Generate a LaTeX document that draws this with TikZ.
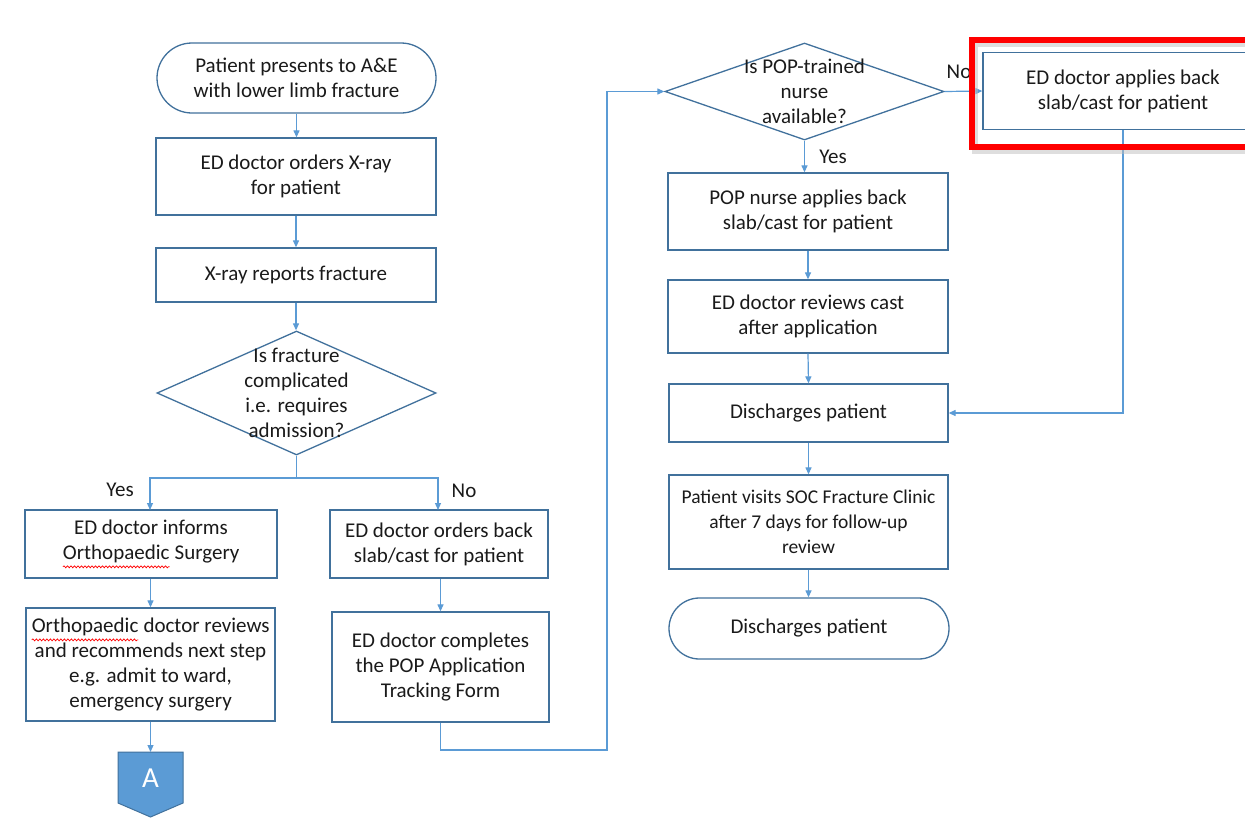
\documentclass[tikz,border=0pt]{standalone}
\usepackage{fontspec}
\setmainfont{Carlito}
\usetikzlibrary{arrows.meta,decorations.pathmorphing,shapes.geometric}
\definecolor{boxblue}{HTML}{41719C}
\definecolor{arrblue}{HTML}{5B9BD5}
\definecolor{txtc}{HTML}{1A1A1A}
\newcommand\spellerr[1]{\tikz[baseline=(w.base),x=1pt,y=1pt]{\node[rectangle,draw=none,fill=none,inner sep=0pt,outer sep=0pt,minimum width=0pt,minimum height=0pt,rounded corners=0pt](w){#1};\draw[red,line width=0.7pt,rounded corners=0pt,decorate,decoration={snake,amplitude=1pt,segment length=3.5pt}] ([yshift=-4pt]w.south west) -- ([yshift=-4pt]w.south east);}}
\begin{document}
\begin{tikzpicture}[x=1pt,y=-1pt,
  font=\fontsize{21}{25}\selectfont,
  box/.style={draw=boxblue, line width=1.3pt, align=center, text=txtc, inner sep=0pt},
  term/.style={box, rounded corners=#1},
  dia/.style={draw=boxblue, line width=1.3pt, diamond, inner sep=0pt},
  txtnode/.style={align=center, text=txtc, inner sep=0pt},
  lbl/.style={text=txtc, inner sep=0pt},
  conn/.style={draw=arrblue, line width=1.2pt},
  arr/.style={conn, -{Triangle[length=7pt,width=6pt]}}]
\clip (0,0) rectangle (1245,822);
\fill[white] (0,0) rectangle (1245,822);

% left column
\node[term=35pt, minimum width=279pt, minimum height=70pt] (start) at (296.5,78) {Patient presents to A\&E\\with lower limb fracture};
\node[box, minimum width=280pt, minimum height=77pt] (xray) at (296,176.5) {ED doctor orders X-ray\\for patient};
\node[box, minimum width=280pt, minimum height=54pt] (rep) at (296,275) {X-ray reports fracture};
\node[dia, minimum width=279pt, minimum height=124pt] (d1) at (296.5,393) {};
\node[txtnode] (d1t) at (d1.center) {Is fracture\\complicated\\i.e. requires\\admission?};

\node[box, minimum width=252pt, minimum height=68pt] (yesbox) at (151,544) {ED doctor informs\\\spellerr{Orthopaedic} Surgery};
\node[box, minimum width=249pt, minimum height=113pt] (ortho) at (150.5,664.5) {\spellerr{Orthopaedic} doctor reviews\\and recommends next step\\e.g. admit to ward,\\emergency surgery};
\node[box, minimum width=218pt, minimum height=68pt] (nobox) at (439,544) {ED doctor orders back\\slab/cast for patient};
\node[box, minimum width=217pt, minimum height=110pt] (form) at (440.5,667) {ED doctor completes\\the POP Application\\Tracking Form};

% off-page connector A
\filldraw[fill=arrblue, draw=boxblue, line width=1pt] (118,752) -- (183,752) -- (183,803) -- (150.5,817) -- (118,803) -- cycle;
\coordinate (Atop) at (150.5,752);
\node[text=white, inner sep=0pt, font=\fontsize{29}{32}\selectfont] (A) at (150.5,778) {A};

% right column
\node[dia, minimum width=279pt, minimum height=97pt] (d2) at (804.5,91.5) {};
\node[txtnode] (d2t) at (d2.center) {Is POP-trained\\nurse\\available?};
\node[box, minimum width=280pt, minimum height=77pt] (edapp) at (1123,91) {ED doctor applies back\\slab/cast for patient};
\node[box, minimum width=280pt, minimum height=77pt] (nurse) at (808,211.5) {POP nurse applies back\\slab/cast for patient};
\node[box, minimum width=280pt, minimum height=73pt] (review) at (808,316.5) {ED doctor reviews cast\\after application};
\node[box, minimum width=279pt, minimum height=58pt] (dis) at (808.5,413) {Discharges patient};
\node[box, minimum width=279pt, minimum height=94pt, font=\fontsize{19.5}{25}\selectfont] (visit) at (808.5,522) {Patient visits SOC Fracture Clinic\\after 7 days for follow-up\\review};
\node[term=30.5pt, minimum width=280pt, minimum height=61pt] (endt) at (809,628.5) {Discharges patient};

% labels
\node[lbl] (yl1) at (120,490) {Yes};
\node[lbl] (nl1) at (464,491) {No};
\node[lbl] (yl2) at (833,157) {Yes};
\node[lbl] (nl2) at (959,72) {No};

% connectors
\draw[arr] (start.south) -- (start.south |- xray.north);
\draw[arr] (xray.south) -- (xray.south |- rep.north);
\draw[arr] (rep.south) -- (rep.south |- d1.north);
\coordinate (j1) at (296.5,478);
\draw[conn] (d1.south) -- (j1);
\draw[arr] (j1) -| (150,510);
\draw[arr] (j1) -| (438,510);
\draw[arr] (yesbox.south -| ortho.north) -- (ortho.north);
\draw[arr] (ortho.south) -- (Atop);
\draw[arr] (nobox.south -| form.north) -- (form.north);
\coordinate (c1) at (607,750);
\draw[arr] (form.south) |- (c1) |- (d2.west);
\draw[arr] (d2.east) -- (edapp.west);
\draw[arr] (d2.south) -- (d2.south |- nurse.north);
\draw[arr] (nurse.south) -- (review.north);
\draw[arr] (review.south) -- (dis.north);
\draw[arr] (edapp.south) |- (dis.east);
\draw[arr] (dis.south) -- (dis.south |- visit.north);
\draw[arr] (visit.south) -- (visit.south |- endt.north);

% red highlight
\draw[black!25, line width=6pt, opacity=0.5] (975,44) rectangle (1262,151);
\draw[red, line width=6pt] (972,40) rectangle (1260,147);
\end{tikzpicture}
\end{document}
